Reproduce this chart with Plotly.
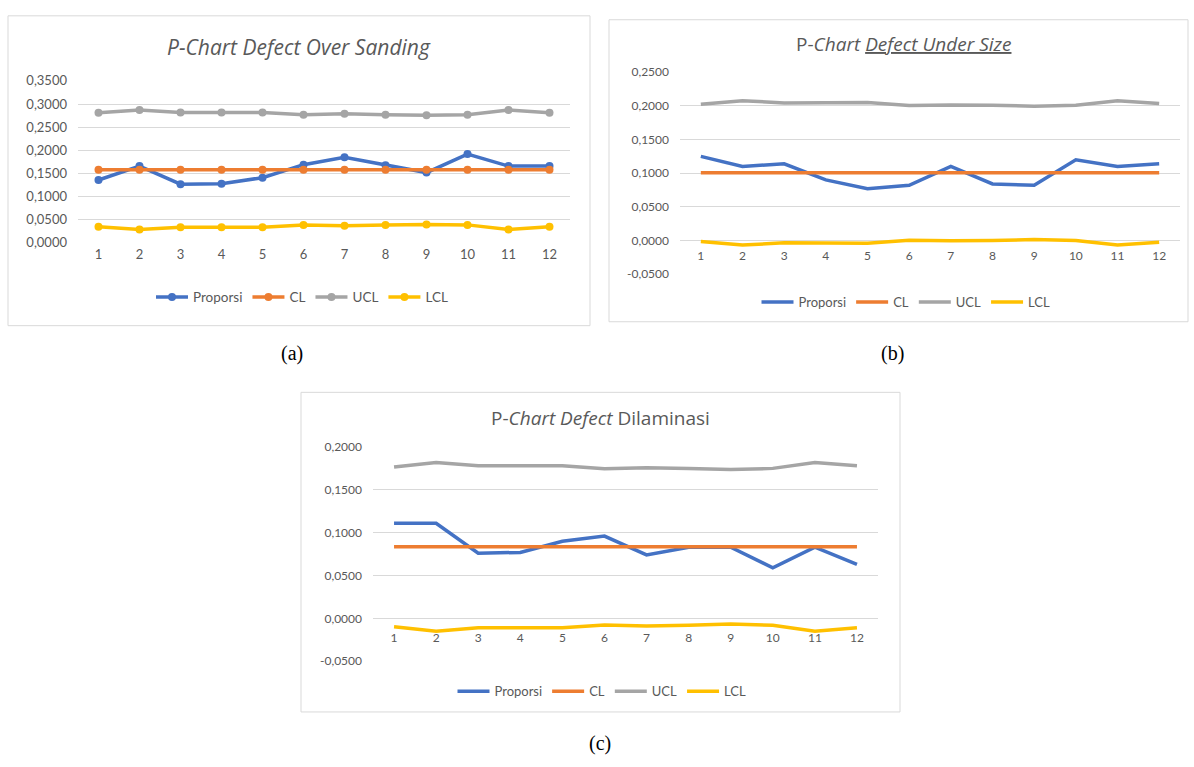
import plotly.graph_objects as go

W, H = 1194, 767
FONT = "Lato"
TITLE_FONT = "Open Sans"
GRAY = "#595959"
GRID = "#D9D9D9"

periods = [1, 2, 3, 4, 5, 6, 7, 8, 9, 10, 11, 12]
period_labels = ["1", "2", "3", "4", "5", "6", "7", "8", "9", "10", "11", "12"]
series_names = ["Proporsi", "CL", "UCL", "LCL"]
series_colors = ["#4472C4", "#ED7D31", "#A5A5A5", "#FFC000"]

# (a) P-Chart Defect Over Sanding
a_proporsi = [0.136, 0.166, 0.127, 0.128, 0.141, 0.169, 0.185, 0.168, 0.152, 0.192, 0.166, 0.166]
a_cl = [0.158, 0.158, 0.158, 0.158, 0.158, 0.158, 0.158, 0.158, 0.158, 0.158, 0.158, 0.158]
a_ucl = [0.281, 0.287, 0.282, 0.282, 0.282, 0.277, 0.279, 0.277, 0.276, 0.277, 0.287, 0.281]
a_lcl = [0.035, 0.029, 0.034, 0.034, 0.034, 0.039, 0.037, 0.039, 0.040, 0.039, 0.029, 0.035]
a_ticks = [0.0, 0.05, 0.10, 0.15, 0.20, 0.25, 0.30, 0.35]
a_ticktext = ["0,0000", "0,0500", "0,1000", "0,1500", "0,2000", "0,2500", "0,3000", "0,3500"]

# (b) P-Chart Defect Under Size
b_proporsi = [0.125, 0.110, 0.114, 0.090, 0.077, 0.082, 0.110, 0.084, 0.082, 0.120, 0.110, 0.114]
b_cl = [0.1005, 0.1005, 0.1005, 0.1005, 0.1005, 0.1005, 0.1005, 0.1005, 0.1005, 0.1005, 0.1005, 0.1005]
b_ucl = [0.2025, 0.2078, 0.2044, 0.2044, 0.2050, 0.2006, 0.2015, 0.2010, 0.1996, 0.2010, 0.2078, 0.2035]
b_lcl = [-0.0015, -0.0068, -0.0034, -0.0034, -0.0040, 0.0004, -0.0005, 0.0000, 0.0014, 0.0000, -0.0068, -0.0025]
b_ticks = [-0.05, 0.0, 0.05, 0.10, 0.15, 0.20, 0.25]
b_ticktext = ["-0,0500", "0,0000", "0,0500", "0,1000", "0,1500", "0,2000", "0,2500"]

# (c) P-Chart Defect Dilaminasi
c_proporsi = [0.111, 0.111, 0.076, 0.077, 0.090, 0.096, 0.074, 0.083, 0.083, 0.059, 0.083, 0.063]
c_cl = [0.0835, 0.0835, 0.0835, 0.0835, 0.0835, 0.0835, 0.0835, 0.0835, 0.0835, 0.0835, 0.0835, 0.0835]
c_ucl = [0.1766, 0.1819, 0.1780, 0.1780, 0.1780, 0.1747, 0.1758, 0.1750, 0.1736, 0.1750, 0.1819, 0.1780]
c_lcl = [-0.0096, -0.0149, -0.0110, -0.0110, -0.0110, -0.0077, -0.0088, -0.0080, -0.0066, -0.0080, -0.0149, -0.0110]
c_ticks = [-0.05, 0.0, 0.05, 0.10, 0.15, 0.20]
c_ticktext = ["-0,0500", "0,0000", "0,0500", "0,1000", "0,1500", "0,2000"]

charts = [
    dict(data=[a_proporsi, a_cl, a_ucl, a_lcl], ticks=a_ticks, ticktext=a_ticktext,
         yrange=[-0.0008, 0.3508], box=(8, 8, 590, 324), plot=(78, 74, 570, 240),
         axis_y=None, xstand=2, title="<i>P-Chart Defect Over Sanding</i>",
         title_xy=(299, 40), title_size=21, legend_y=295, legend_x=302, legend_size=13.5,
         markers=True, tick_size=13),
    dict(data=[b_proporsi, b_cl, b_ucl, b_lcl], ticks=b_ticks, ticktext=b_ticktext,
         yrange=[-0.0508, 0.2508], box=(609, 12, 1188, 320), plot=(680, 65, 1180, 272),
         axis_y=237, xstand=7, title="P-<i>Chart</i> <i><u>Defect Under Size</u></i>",
         title_xy=(903, 37), title_size=19, legend_y=300, legend_x=906, legend_size=13,
         markers=False, tick_size=12),
    dict(data=[c_proporsi, c_cl, c_ucl, c_lcl], ticks=c_ticks, ticktext=c_ticktext,
         yrange=[-0.0508, 0.2008], box=(301, 392, 900, 718), plot=(373, 447, 878, 667),
         axis_y=623, xstand=10, title="P-<i>Chart Defect</i> Dilaminasi",
         title_xy=(600, 418), title_size=19, legend_y=697, legend_x=602, legend_size=13,
         markers=False, tick_size=12),
]

fig = go.Figure()
layout = dict(width=W, height=H, margin=dict(l=0, r=0, t=0, b=0),
              paper_bgcolor="white", plot_bgcolor="white", font=dict(family=FONT, color=GRAY),
              shapes=[], annotations=[])

for i, ch in enumerate(charts):
    n = "" if i == 0 else str(i + 1)
    lg = "legend" if i == 0 else "legend%d" % (i + 1)
    for name, color, vals in zip(series_names, series_colors, ch["data"]):
        fig.add_trace(go.Scatter(
            x=periods, y=vals, name=name, xaxis="x" + n, yaxis="y" + n, legend=lg,
            mode="lines+markers" if ch["markers"] else "lines",
            line=dict(color=color, width=3.5),
            marker=dict(size=8, color=color, symbol="circle"),
        ))
    px0, py0, px1, py1 = ch["plot"]
    xa = dict(domain=[px0 / W, px1 / W], range=[0.5, 12.5], tickmode="array",
              tickvals=periods, ticktext=period_labels, showgrid=False, zeroline=False,
              showline=False, ticks="", ticklabelstandoff=ch["xstand"],
              tickfont=dict(family=FONT, size=ch["tick_size"], color=GRAY), fixedrange=True)
    if ch["axis_y"] is not None:
        xa["anchor"] = "free"
        xa["position"] = 1 - ch["axis_y"] / H
    else:
        xa["anchor"] = "y" + n
    ya = dict(domain=[1 - py1 / H, 1 - py0 / H], range=ch["yrange"], tickmode="array",
              tickvals=ch["ticks"], ticktext=ch["ticktext"], showgrid=True, gridcolor=GRID,
              gridwidth=1, zeroline=False, showline=False, ticks="", ticklabelstandoff=10,
              anchor="x" + n, tickfont=dict(family=FONT, size=ch["tick_size"], color=GRAY),
              fixedrange=True)
    layout["xaxis" + n] = xa
    layout["yaxis" + n] = ya
    bx0, by0, bx1, by1 = ch["box"]
    layout["shapes"].append(dict(type="rect", xref="paper", yref="paper",
                                 x0=bx0 / W, x1=bx1 / W, y0=1 - by1 / H, y1=1 - by0 / H,
                                 line=dict(color=GRID, width=1), fillcolor="rgba(0,0,0,0)",
                                 layer="below"))
    tx, ty = ch["title_xy"]
    layout["annotations"].append(dict(text=ch["title"], xref="paper", yref="paper",
                                      x=tx / W, y=1 - ty / H, xanchor="center", yanchor="middle",
                                      showarrow=False,
                                      font=dict(family=TITLE_FONT, size=ch["title_size"], color=GRAY)))
    layout[lg] = dict(orientation="h", x=ch["legend_x"] / W, y=1 - ch["legend_y"] / H,
                      xanchor="center", yanchor="middle", bgcolor="rgba(0,0,0,0)",
                      font=dict(family=FONT, size=ch["legend_size"], color=GRAY), itemwidth=32,
                      tracegroupgap=0)

captions = ["(a)", "(b)", "(c)"]
caption_xy = [(292, 352), (892, 352), (600, 750)]
for cap, (cx, cy) in zip(captions, caption_xy):
    layout["annotations"].append(dict(text=cap, xref="paper", yref="paper", x=cx / W,
                                      y=1 - cy / H, xanchor="center", yanchor="middle",
                                      showarrow=False,
                                      font=dict(family="Liberation Serif", size=20, color="black")))

fig.update_layout(**layout)
fig.write_html("out.html")
